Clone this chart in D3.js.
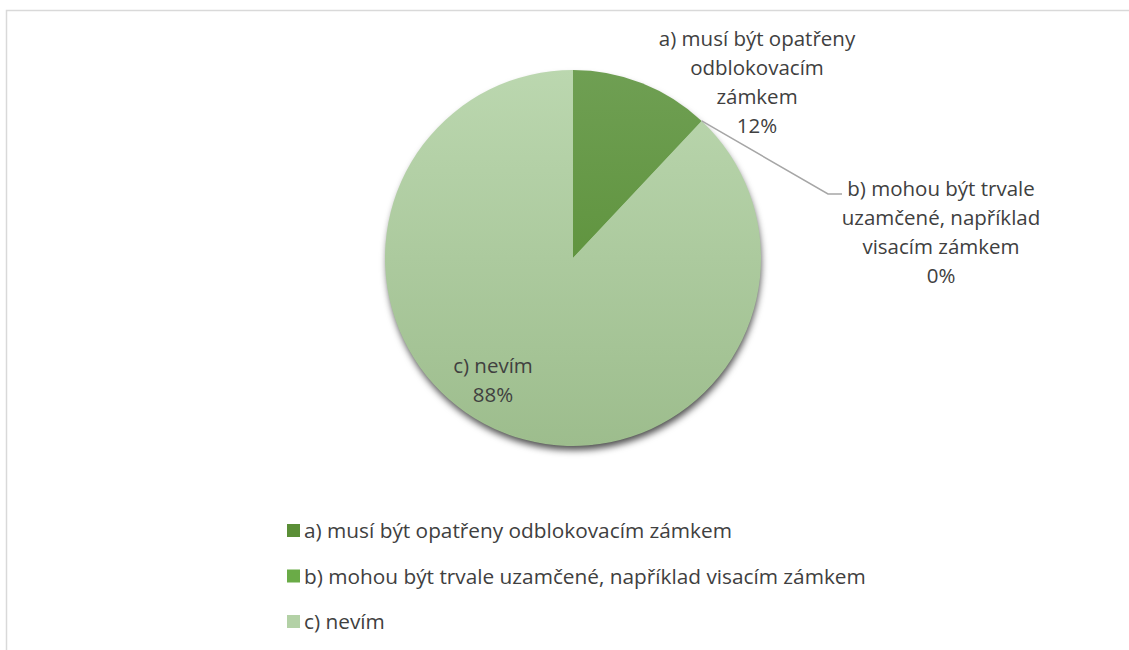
<!DOCTYPE html>
<html lang="cs">
<head>
<meta charset="UTF-8">
<title>Pie</title>
<script src="https://cdn.jsdelivr.net/npm/d3@7"></script>
<style>
  body { margin: 0; background: #fff; }
  text { font-family: "Open Sans", Lato, sans-serif; fill: #404040; }
</style>
</head>
<body>
<svg width="1129" height="650"></svg>
<script>
// data
const categories = ["a) musí být opatřeny odblokovacím zámkem",
                    "b) mohou být trvale uzamčené, například visacím zámkem",
                    "c) nevím"];
const values = [12, 0, 88];
const labelLines = [
  ["a) musí být opatřeny", "odblokovacím", "zámkem", "12%"],
  ["b) mohou být trvale", "uzamčené, například", "visacím zámkem", "0%"],
  ["c) nevím", "88%"]
];

const colorTop = ["#6f9f53", "#72b04e", "#bbd7af"];
const colorBot = ["#528a2c", "#5fa03a", "#9dbd8d"];
const legendColor = ["#5a8e36", "#6aab47", "#b3d1a6"];

const svg = d3.select("svg");

// chart frame
svg.append("rect")
  .attr("x", 6.5).attr("y", 10.5)
  .attr("width", 1200).attr("height", 700)
  .attr("fill", "#fff").attr("stroke", "#d9d9d9").attr("stroke-width", 1.5);

const defs = svg.append("defs");
categories.forEach((c, i) => {
  const g = defs.append("linearGradient")
    .attr("id", "grad" + i)
    .attr("gradientUnits", "userSpaceOnUse")
    .attr("x1", 0).attr("y1", -188).attr("x2", 0).attr("y2", 188);
  g.append("stop").attr("offset", "0%").attr("stop-color", colorTop[i]);
  g.append("stop").attr("offset", "100%").attr("stop-color", colorBot[i]);
});
const f = defs.append("filter").attr("id", "shadow")
  .attr("x", "-20%").attr("y", "-20%").attr("width", "140%").attr("height", "140%");
f.append("feDropShadow").attr("dx", 1).attr("dy", 5).attr("stdDeviation", 3.5)
  .attr("flood-color", "#000").attr("flood-opacity", 0.7);

const cx = 573, cy = 258, r = 188;
const pie = d3.pie().sort(null).value(d => d)(values);
const arc = d3.arc().innerRadius(0).outerRadius(r);

const g = svg.append("g").attr("transform", `translate(${cx},${cy})`);
g.append("circle").attr("r", r - 1).attr("fill", "#a8c79a").attr("filter", "url(#shadow)");
g.selectAll("path").data(pie).join("path")
  .attr("d", arc)
  .attr("fill", (d, i) => `url(#grad${i})`);

// leader line for the zero slice
const p0 = d3.pointRadial(pie[1].startAngle, r);
svg.append("polyline")
  .attr("points", [[cx + p0[0], cy + p0[1]], [828, 194], [842, 194]].join(" "))
  .attr("fill", "none").attr("stroke", "#a6a6a6").attr("stroke-width", 1.5);

// data labels
const labelPos = [[757, 46], [941, 196], [493, 373]];
const lh = 29;
labelLines.forEach((lines, i) => {
  const t = svg.append("text")
    .attr("text-anchor", "middle")
    .attr("font-size", 20.5);
  lines.forEach((l, j) => {
    t.append("tspan").attr("x", labelPos[i][0]).attr("y", labelPos[i][1] + j * lh).text(l);
  });
});

// legend
const legend = svg.append("g");
const ly = d3.scalePoint().domain(categories).range([531, 622]);
categories.forEach((c, i) => {
  const y = ly(c);
  legend.append("rect").attr("x", 287).attr("y", y - 7).attr("width", 13).attr("height", 13)
    .attr("fill", legendColor[i]);
  legend.append("text").attr("x", 304).attr("y", y + 7).attr("font-size", 20.8).text(c);
});
</script>
</body>
</html>
